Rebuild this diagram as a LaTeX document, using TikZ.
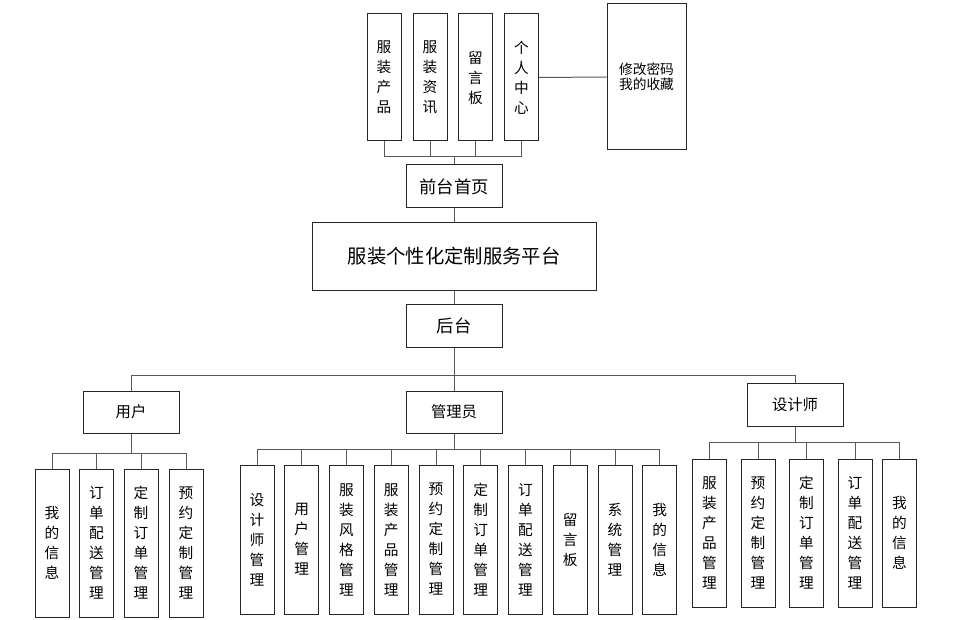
\documentclass[tikz,border=0pt]{standalone}
\usepackage{fontspec}
\setmainfont{Noto Sans CJK SC}
\begin{document}
\begin{tikzpicture}[x=0.75pt,y=-0.75pt,
		box/.style={draw=black!85,line width=0.75pt,inner sep=0pt,align=center},
		vbox/.style={box,minimum width=25.5pt,font=\fontsize{11}{15}\selectfont},
		link/.style={draw=black!65,line width=0.75pt}]
		\useasboundingbox (0,0) rectangle (956,620);
		% front end
		\foreach \x/\t [count=\i] in {384/{服\\装\\产\\品},430/{服\\装\\资\\讯},475.5/{留\\言\\板},521.5/{个\\人\\中\\心}} {
			\node[vbox,minimum height=95.25pt] (qt\i) at (\x,77.5) {\t};
		}
		\node[box,minimum width=59.25pt,minimum height=109.5pt,font=\fontsize{10.3}{11.5}\selectfont] (grzx) at (646.5,77) {修改密码\\我的收藏};
		\draw[link] (qt4.east) -- (grzx.west);
		\node[box,minimum width=72pt,minimum height=32.25pt,font=\fontsize{13}{15}\selectfont] (qtsy) at (454,186.5) {前台首页};
		\coordinate (qtbus) at (454,157);
		\foreach \i in {1,...,4} {
			\draw[link] (qt\i.south) |- (qtbus);
		}
		\draw[link] (qtbus) -- (qtsy.north);
		% platform
		\node[box,minimum width=213pt,minimum height=50.25pt,font=\fontsize{14.5}{16}\selectfont] (pt) at (454,256.5) {服装个性化定制服务平台};
		\draw[link] (qtsy.south) -- (pt.north);
		% back end
		\node[box,minimum width=72pt,minimum height=32.25pt,font=\fontsize{13}{15}\selectfont] (ht) at (454,325.5) {后台};
		\draw[link] (pt.south) -- (ht.north);
		\node[box,minimum width=72pt,minimum height=31.5pt,font=\fontsize{11.5}{13}\selectfont] (gly) at (454,412) {管理员};
		\node[box,minimum width=72pt,minimum height=31.5pt,font=\fontsize{11.5}{13}\selectfont] (yh) at (131,412) {用户};
		\node[box,minimum width=72pt,minimum height=32.25pt,font=\fontsize{11.5}{13}\selectfont] (sjs) at (795,404.5) {设计师};
		\coordinate (htbus) at (454,375);
		\draw[link] (ht.south) -- (gly.north);
		\draw[link] (htbus) -| (yh.north);
		\draw[link] (htbus) -| (sjs.north);
		% user
		\coordinate (yhbus) at (131,453);
		\draw[link] (yh.south) -- (yhbus);
		\foreach \x/\t [count=\i] in {52/{我\\的\\信\\息},96.5/{订\\单\\配\\送\\管\\理},141/{定\\制\\订\\单\\管\\理},186/{预\\约\\定\\制\\管\\理}} {
			\node[vbox,minimum height=111pt] (yh\i) at (\x,543) {\t};
			\draw[link] (yhbus) -| (yh\i.north);
		}
		% admin
		\coordinate (glybus) at (454,449);
		\draw[link] (gly.south) -- (glybus);
		\foreach \t [count=\i] in {{设\\计\\师\\管\\理},{用\\户\\管\\理},{服\\装\\风\\格\\管\\理},{服\\装\\产\\品\\管\\理},{预\\约\\定\\制\\管\\理},{定\\制\\订\\单\\管\\理},{订\\单\\配\\送\\管\\理},{留\\言\\板},{系\\统\\管\\理},{我\\的\\信\\息}} {
			\node[vbox,minimum height=111.75pt] (gly\i) at ({257+44.75*(\i-1)},539.5) {\t};
			\draw[link] (glybus) -| (gly\i.north);
		}
		% designer
		\coordinate (sjsbus) at (795,442);
		\draw[link] (sjs.south) -- (sjsbus);
		\foreach \x/\t [count=\i] in {709.5/{服\\装\\产\\品\\管\\理},758/{预\\约\\定\\制\\管\\理},806.5/{定\\制\\订\\单\\管\\理},855/{订\\单\\配\\送\\管\\理},899.5/{我\\的\\信\\息}} {
			\node[vbox,minimum height=111pt] (sjs\i) at (\x,533) {\t};
			\draw[link] (sjsbus) -| (sjs\i.north);
		}
	\end{tikzpicture}
\end{document}
